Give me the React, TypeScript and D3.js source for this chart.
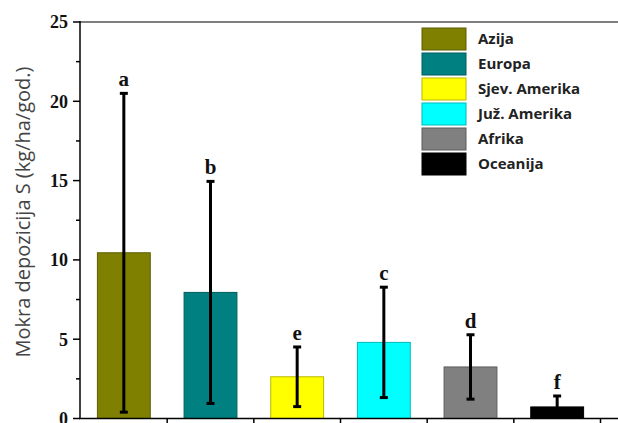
import React, { useEffect, useRef } from "react";
import * as d3 from "d3";

// Wet S deposition by continent: mean, standard deviation, significance letter
const continents = ["Azija", "Europa", "Sjev. Amerika", "Juž. Amerika", "Afrika", "Oceanija"];
const means = [10.45, 7.95, 2.63, 4.8, 3.25, 0.73];
const errors = [10.05, 7.0, 1.88, 3.48, 2.03, 0.69];
const letters = ["a", "b", "e", "c", "d", "f"];
const colors = ["#808000", "#008080", "#ffff00", "#00ffff", "#808080", "#000000"];
const yTicks = [0, 5, 10, 15, 20, 25];
const yMinorTicks = [2.5, 7.5, 12.5, 17.5, 22.5];

const W = 618;
const H = 423;

export default function App() {
  const ref = useRef<SVGSVGElement | null>(null);

  useEffect(() => {
    const svg = d3.select(ref.current);
    svg.selectAll("*").remove();

    const x = d3
      .scaleBand<string>()
      .domain(continents)
      .range([80.5, 600.5])
      .paddingInner(0.39)
      .paddingOuter(0.195);
    const y = d3.scaleLinear().domain([0, 25]).range([418.5, 22]);

    const serif = "'Liberation Serif', 'Times New Roman', serif";
    const sans = "'Open Sans', 'Noto Sans', sans-serif";

    // top frame line
    svg
      .append("line")
      .attr("x1", 80)
      .attr("x2", W)
      .attr("y1", y(25))
      .attr("y2", y(25))
      .attr("stroke", "#555")
      .attr("stroke-width", 1.6);

    // bars
    const bars = svg.append("g");
    continents.forEach((c, i) => {
      const col = d3.color(colors[i])!;
      const stroke = colors[i] === "#000000" ? "#000" : col.darker(0.9).formatHex();
      bars
        .append("rect")
        .attr("x", x(c)!)
        .attr("y", y(means[i]))
        .attr("width", x.bandwidth())
        .attr("height", y(0) - y(means[i]))
        .attr("fill", colors[i])
        .attr("stroke", stroke)
        .attr("stroke-width", 1);
    });

    // error bars
    const eb = svg.append("g").attr("stroke", "#000").attr("stroke-width", 3);
    continents.forEach((c, i) => {
      const cx = x(c)! + x.bandwidth() / 2;
      const lo = Math.max(0, means[i] - errors[i]);
      const hi = means[i] + errors[i];
      eb.append("line").attr("x1", cx).attr("x2", cx).attr("y1", y(lo)).attr("y2", y(hi));
      eb.append("line").attr("x1", cx - 4).attr("x2", cx + 4).attr("y1", y(hi)).attr("y2", y(hi));
      if (means[i] - errors[i] > 0.1)
        eb.append("line").attr("x1", cx - 4).attr("x2", cx + 4).attr("y1", y(lo)).attr("y2", y(lo));
    });

    // significance letters
    continents.forEach((c, i) => {
      const cx = x(c)! + x.bandwidth() / 2;
      svg
        .append("text")
        .attr("x", cx)
        .attr("y", y(means[i] + errors[i]) - 7)
        .attr("text-anchor", "middle")
        .attr("font-family", serif)
        .attr("font-weight", "bold")
        .attr("font-size", 21)
        .attr("fill", "#111")
        .text(letters[i]);
    });

    // y axis
    const yAxis = svg.append("g");
    yAxis
      .append("line")
      .attr("x1", 80)
      .attr("x2", 80)
      .attr("y1", y(25) - 1)
      .attr("y2", y(0))
      .attr("stroke", "#000")
      .attr("stroke-width", 1.5);
    yTicks.forEach((t) => {
      yAxis
        .append("line")
        .attr("x1", 73)
        .attr("x2", 80)
        .attr("y1", y(t))
        .attr("y2", y(t))
        .attr("stroke", "#000")
        .attr("stroke-width", 1.5);
      yAxis
        .append("text")
        .attr("x", 68)
        .attr("y", y(t))
        .attr("dy", "0.35em")
        .attr("text-anchor", "end")
        .attr("font-family", serif)
        .attr("font-weight", "bold")
        .attr("font-size", 18)
        .attr("fill", "#111")
        .text(String(t));
    });
    yMinorTicks.forEach((t) => {
      yAxis
        .append("line")
        .attr("x1", 76)
        .attr("x2", 80)
        .attr("y1", y(t))
        .attr("y2", y(t))
        .attr("stroke", "#000")
        .attr("stroke-width", 1.5);
    });

    // y axis title
    svg
      .append("text")
      .attr("transform", `translate(30, 212) rotate(-90)`)
      .attr("text-anchor", "middle")
      .attr("font-family", sans)
      .attr("font-size", 20)
      .attr("fill", "#444")
      .text("Mokra depozicija S (kg/ha/god.)");

    // x axis
    const xAxis = svg.append("g");
    xAxis
      .append("line")
      .attr("x1", 79)
      .attr("x2", W)
      .attr("y1", y(0))
      .attr("y2", y(0))
      .attr("stroke", "#000")
      .attr("stroke-width", 1.5);
    const step = x.step();
    continents.forEach((c) => {
      const bx = x(c)! - (step - x.bandwidth()) / 2 + step;
      xAxis
        .append("line")
        .attr("x1", bx)
        .attr("x2", bx)
        .attr("y1", y(0))
        .attr("y2", y(0) + 7)
        .attr("stroke", "#000")
        .attr("stroke-width", 1.5);
    });

    // legend
    const lg = svg.append("g").attr("transform", "translate(422, 28)");
    continents.forEach((c, i) => {
      const col = d3.color(colors[i])!;
      const stroke = colors[i] === "#000000" ? "#000" : col.darker(0.9).formatHex();
      const row = lg.append("g").attr("transform", `translate(0, ${i * 25})`);
      row
        .append("rect")
        .attr("width", 44)
        .attr("height", 22)
        .attr("fill", colors[i])
        .attr("stroke", stroke)
        .attr("stroke-width", 1);
      row
        .append("text")
        .attr("x", 56)
        .attr("y", 11)
        .attr("dy", "0.35em")
        .attr("font-family", sans)
        .attr("font-weight", "bold")
        .attr("font-size", 15)
        .attr("fill", "#222")
        .text(c);
    });
  }, []);

  return (
    <svg
      ref={ref}
      width={W}
      height={H}
      style={{ position: "absolute", left: 0, top: 0, background: "#fff" }}
    />
  );
}
